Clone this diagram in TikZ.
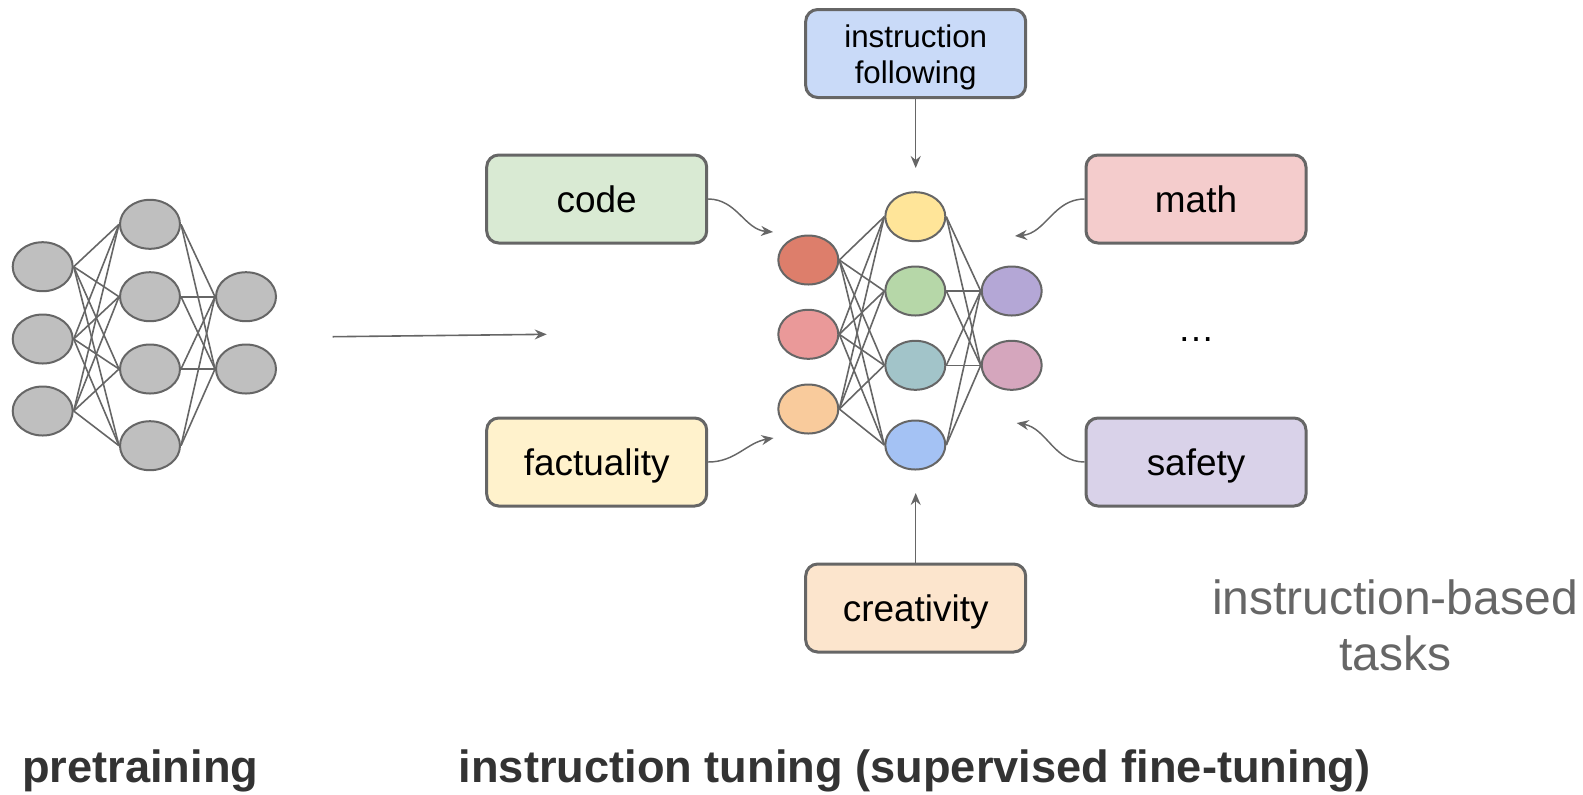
\documentclass[tikz,border=0pt]{standalone}
\usepackage{fontspec}
\setmainfont{Liberation Sans}
\usetikzlibrary{shapes.geometric,arrows.meta,backgrounds}

\definecolor{outline}{HTML}{666666}
\definecolor{labelgray}{HTML}{666666}
\definecolor{titlegray}{HTML}{333333}
\definecolor{plain}{HTML}{BFBFBF}
\definecolor{nred}{HTML}{DD7E6B}
\definecolor{npink}{HTML}{EA9999}
\definecolor{norange}{HTML}{F9CB9C}
\definecolor{nyellow}{HTML}{FFE599}
\definecolor{ngreen}{HTML}{B6D7A8}
\definecolor{nteal}{HTML}{A2C4C9}
\definecolor{nblue}{HTML}{A4C2F4}
\definecolor{npurple}{HTML}{B4A7D6}
\definecolor{nmagenta}{HTML}{D5A6BD}
\definecolor{bcode}{HTML}{D9EAD3}
\definecolor{bfact}{HTML}{FFF2CC}
\definecolor{binstr}{HTML}{C9DAF8}
\definecolor{bmath}{HTML}{F4CCCC}
\definecolor{bsafe}{HTML}{D9D2E9}
\definecolor{bcreat}{HTML}{FCE5CD}

\begin{document}
\begin{tikzpicture}[x=0.75pt,y=-0.75pt,
  neuron/.style={ellipse, draw=outline, line width=1.5pt,
    minimum width=45pt, minimum height=36.75pt, inner sep=0pt},
  link/.style={draw=outline, line width=1.2pt},
  task/.style={draw=outline, line width=2.25pt, rounded corners=9pt,
    minimum width=165pt, minimum height=66pt, inner sep=0pt,
    align=center, text=black, font=\fontsize{27.7}{33}\selectfont},
  oneline/.style={text height=20.2pt, text depth=0pt},
  feed/.style={draw=outline, line width=1.1pt,
    -{Stealth[length=9pt,width=7.5pt,inset=3pt]}},
  title/.style={text=titlegray, inner sep=0pt,
    font=\bfseries\fontsize{33.9}{40}\selectfont}]
\useasboundingbox (0,0) rectangle (1583,794);

% pretrained network
\node[neuron, fill=plain] (p1) at (42.7,266.7) {};
\node[neuron, fill=plain] (p2) at (42.7,339) {};
\node[neuron, fill=plain] (p3) at (42.7,411) {};
\node[neuron, fill=plain] (q1) at (150,224.3) {};
\node[neuron, fill=plain] (q2) at (150,296.7) {};
\node[neuron, fill=plain] (q3) at (150,369) {};
\node[neuron, fill=plain] (q4) at (150,445.7) {};
\node[neuron, fill=plain] (r1) at (246,296.7) {};
\node[neuron, fill=plain] (r2) at (246,369) {};

% instruction-tuned network
\node[neuron, fill=nred]     (a1) at (808.3,260) {};
\node[neuron, fill=npink]    (a2) at (808.3,334.3) {};
\node[neuron, fill=norange]  (a3) at (808.3,409) {};
\node[neuron, fill=nyellow]  (b1) at (915.3,216.7) {};
\node[neuron, fill=ngreen]   (b2) at (915.3,291) {};
\node[neuron, fill=nteal]    (b3) at (915.3,365.3) {};
\node[neuron, fill=nblue]    (b4) at (915.3,445) {};
\node[neuron, fill=npurple]  (c1) at (1011.7,291) {};
\node[neuron, fill=nmagenta] (c2) at (1011.7,365.3) {};

\begin{scope}[on background layer]
  \foreach \i in {1,2,3}
    \foreach \j in {1,2,3,4} {
      \draw[link] (p\i.east) -- (q\j.west);
      \draw[link] (a\i.east) -- (b\j.west);
    }
  \foreach \j in {1,2,3,4}
    \foreach \k in {1,2} {
      \draw[link] (q\j.east) -- (r\k.west);
      \draw[link] (b\j.east) -- (c\k.west);
    }
\end{scope}

% transition from pretraining to tuning
\coordinate (s0) at (332.7,336.7);
\coordinate (s1) at (546.7,334.3);
\draw[feed, line width=1.2pt] (s0) -- (s1);

% task boxes
\node[task, fill=binstr, font=\fontsize{23.5}{27.4}\selectfont] (instr)
  at (915.7,53.5) {\rule{0pt}{23.2pt}instruction\\following};
\node[task, oneline, fill=bcode]  (code)  at (596.7,199) {code};
\node[task, oneline, fill=bfact]  (fact)  at (596.7,462) {factuality};
\node[task, oneline, fill=bmath]  (math)  at (1196,199) {math};
\node[task, oneline, fill=bsafe]  (safe)  at (1196,462) {safety};
\node[task, oneline, fill=bcreat] (creat) at (915.7,608) {creativity};
\node[text=black, inner sep=0pt, font=\fontsize{27.7}{33}\selectfont]
  (more) at (1196,340) {…};

% arrows into the network
\coordinate (tinstr) at (915.7,168);
\coordinate (tcreat) at (915.7,493);
\coordinate (tcode)  at (773,232);
\coordinate (tfact)  at (773.5,438);
\coordinate (tmath)  at (1015,236);
\coordinate (tsafe)  at (1016.7,423);
\draw[feed] (instr.south) -- (tinstr);
\draw[feed] (creat.north) -- (tcreat);
\draw[feed] (code.east) to[out=0,in=175] (tcode);
\draw[feed] (fact.east) to[out=0,in=190] (tfact);
\draw[feed] (math.west) to[out=180,in=5] (tmath);
\draw[feed] (safe.west) to[out=180,in=-10] (tsafe);

% captions
\node[text=labelgray, inner sep=0pt, align=center,
  font=\fontsize{36}{41.6}\selectfont, anchor=base] (kind) at (1395,670)
  {instruction-based\\tasks};
\node[title, anchor=base west] (pre) at (22,782) {pretraining};
\node[title, anchor=base] (tune) at (914.5,782)
  {instruction tuning (supervised fine-tuning)};
\end{tikzpicture}
\end{document}
